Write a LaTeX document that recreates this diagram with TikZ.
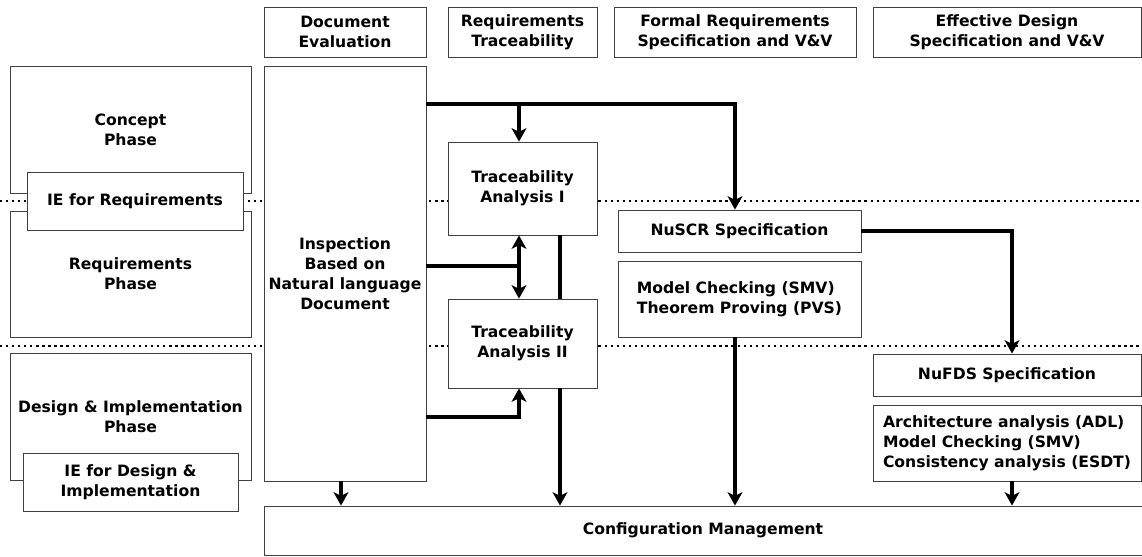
\documentclass[tikz,border=0pt]{standalone}
\usepackage{fontspec}
\setmainfont{DejaVu Sans}
\usetikzlibrary{arrows.meta}
\begin{document}
\begin{tikzpicture}[thick,
  box/.style={rectangle,draw=black!75,line width=0.6pt,fill=white,inner sep=0pt,align=center,
              font=\bfseries\fontsize{11.1}{14.2}\selectfont},
  flow/.style={line width=2.2pt,-{Stealth[length=9.5pt,width=10.5pt,inset=2.5pt]}},
  link/.style={line width=2.2pt},
  sep/.style={line width=1.6pt,dash pattern=on 1.6pt off 2.7pt}]
\useasboundingbox (0,0) rectangle (28.55,13.9);

% phase separators
\draw[sep] (0,8.875) -- (28.55,8.875);
\draw[sep] (0,5.25) -- (28.55,5.25);

% column headers
\node at ( 8.625,13.1) [box,minimum width=4.05cm,minimum height=1.25cm] (doceval) {Document\\Evaluation};
\node at (13.0625,13.1) [box,minimum width=3.725cm,minimum height=1.25cm] (reqtrace) {Requirements\\Traceability};
\node at (18.375,13.1) [box,minimum width=6.05cm,minimum height=1.25cm] (formal) {Formal Requirements\\Specification and V\&V};
\node at (25.175,13.1) [box,minimum width=6.7cm,minimum height=1.25cm] (effective) {Effective Design\\Specification and V\&V};

% phases
\node at (3.2625,10.6625) [box,minimum width=6.025cm,minimum height=3.175cm] (concept) {Concept\\Phase};
\node at (3.2625,7.05) [box,minimum width=6.025cm,minimum height=3.15cm] (reqphase) {Requirements\\Phase};
\node at (3.2625,3.4875) [box,minimum width=6.025cm,minimum height=3.175cm] (desphase) {Design \& Implementation\\Phase};
\node at (3.375,8.875) [box,minimum width=5.4cm,minimum height=1.45cm] (iereq) {IE for Requirements};
\node at (3.2625,1.85) [box,minimum width=5.375cm,minimum height=1.45cm] (iedes) {IE for Design \&\\Implementation};

% activities
\node at ( 8.625,7.0625) [box,minimum width=4.05cm,minimum height=10.375cm] (insp) {Inspection\\Based on\\Natural language\\Document};
\node at (13.0625,9.1875) [box,minimum width=3.725cm,minimum height=2.325cm] (traceI) {Traceability\\Analysis I};
\node at (13.0625,5.3125) [box,minimum width=3.725cm,minimum height=2.225cm] (traceII) {Traceability\\Analysis II};
\node at (18.4875,8.125) [box,minimum width=6.075cm,minimum height=1.05cm] (nuscr) {NuSCR Specification};
\node at (18.4875,6.425) [box,minimum width=6.075cm,minimum height=1.9cm,align=left] (modelchk) {Model Checking (SMV)\\Theorem Proving (PVS)};
\node at (25.175,4.525) [box,minimum width=6.7cm,minimum height=1.05cm] (nufds) {NuFDS Specification};
\node at (25.175,2.825) [box,minimum width=6.7cm,minimum height=1.9cm,align=left] (archan) {Architecture analysis (ADL)\\Model Checking (SMV)\\Consistency analysis (ESDT)};
\node at (17.575,0.6375) [box,minimum width=21.95cm,minimum height=1.225cm] (config) {Configuration Management};

% junctions
\coordinate (top) at (18.375,11.3);
\coordinate (mid) at (12.975,7.25);
\coordinate (low) at (12.975,3.475);

\draw[flow] (insp.east |- top) -- (top) -- (top |- nuscr.north);
\draw[flow] (mid |- top) -- (mid |- traceI.north);
\draw[link] (insp.east |- mid) -- (mid);
\draw[link,{Stealth[length=9.5pt,width=10.5pt,inset=2.5pt]}-{Stealth[length=9.5pt,width=10.5pt,inset=2.5pt]}] (traceI.south -| mid) -- (traceII.north -| mid);
\draw[flow] (insp.east |- low) -- (low) -- (traceII.south -| low);
\draw[link] ([xshift=0.9375cm]traceI.south) -- ([xshift=0.9375cm]traceII.north);
\draw[flow] ([xshift=0.9375cm]traceII.south) -- ([xshift=0.9375cm]traceII.south |- config.north);
\draw[flow] ([xshift=-0.1cm]insp.south) -- ([xshift=-0.1cm]insp.south |- config.north);
\draw[flow] (modelchk.south -| top) -- (config.north -| top);
\draw[flow] (nuscr.east) -| ([xshift=0.125cm]nufds.north);
\draw[flow] ([xshift=0.125cm]archan.south) -- ([xshift=0.125cm]archan.south |- config.north);
\end{tikzpicture}
\end{document}
